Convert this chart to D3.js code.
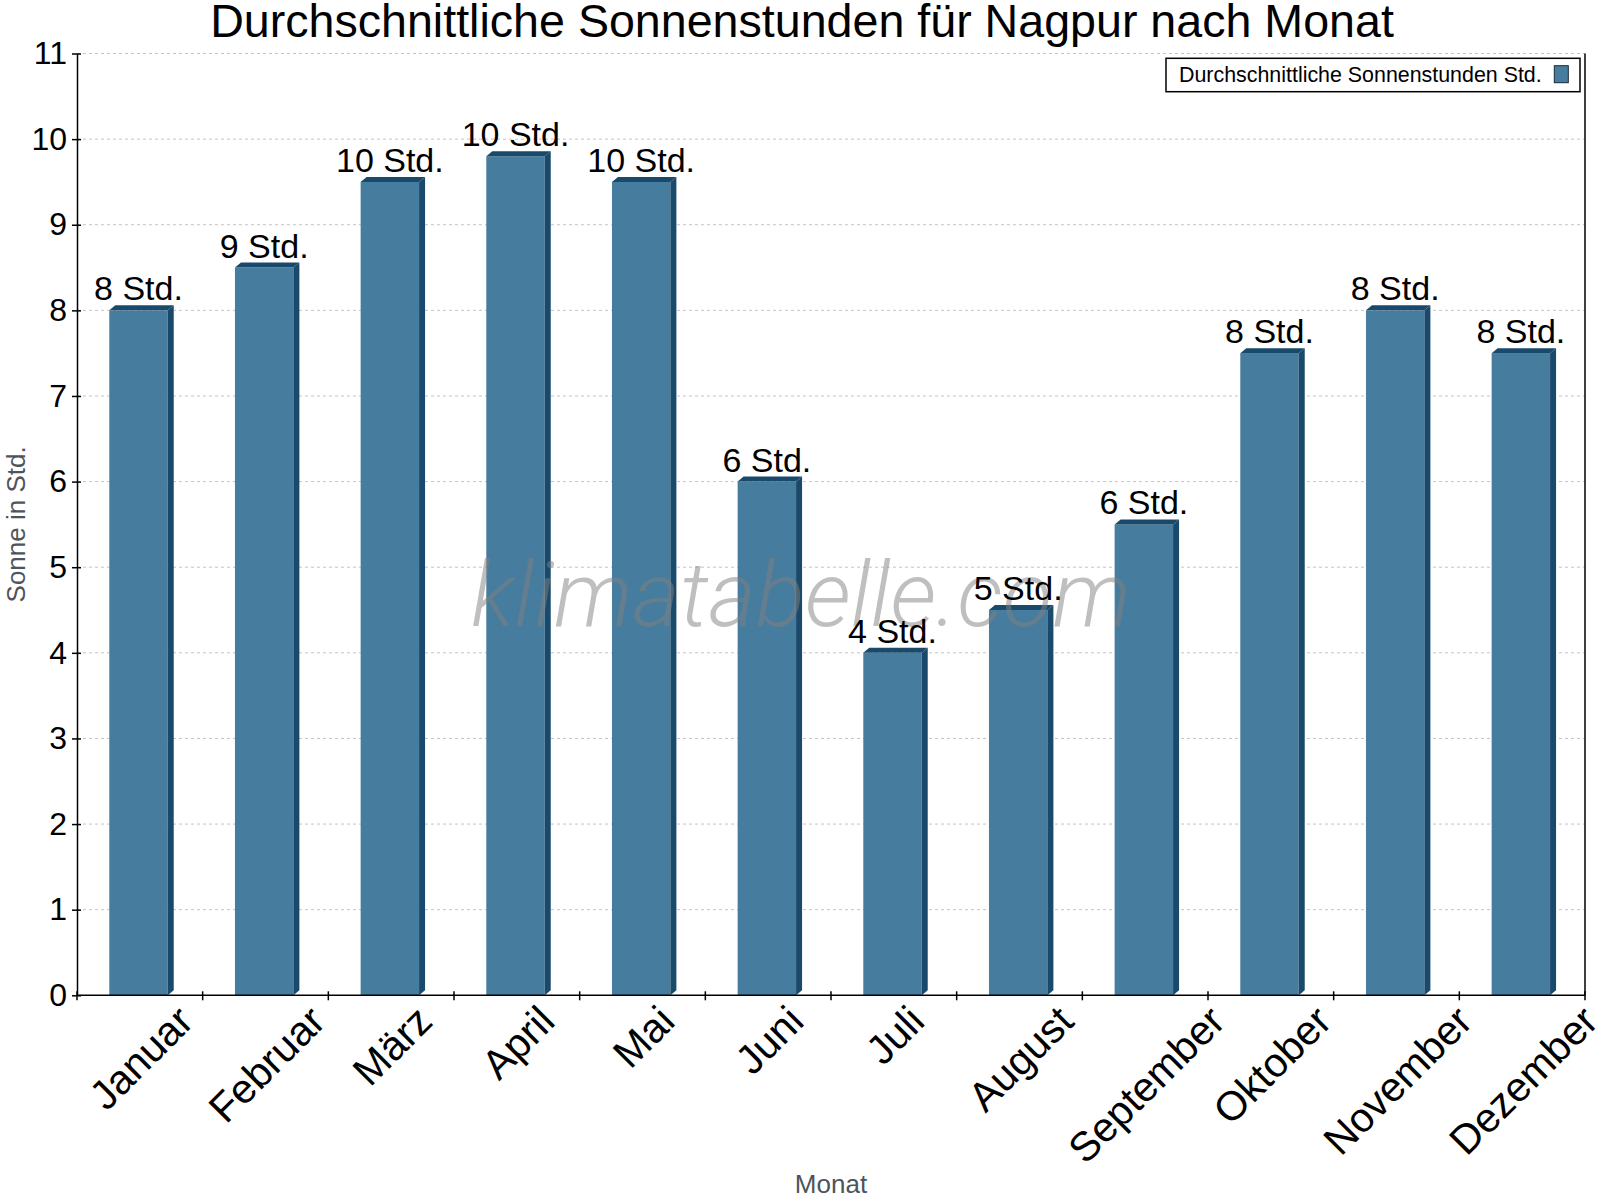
<!DOCTYPE html>
<html>
<head>
<meta charset="utf-8">
<script src="https://cdn.jsdelivr.net/npm/d3@7"></script>
<style>
  body { margin: 0; background: #fff; }
  text { font-family: "Liberation Sans", Arial, sans-serif; }
</style>
</head>
<body>
<script>
// Sonnenstunden Nagpur
var months = ["Januar", "Februar", "März", "April", "Mai", "Juni", "Juli",
              "August", "September", "Oktober", "November", "Dezember"];
var sunHours = [8, 8.5, 9.5, 9.8, 9.5, 6, 4, 4.5, 5.5, 7.5, 8, 7.5];
var valueLabels = ["8 Std.", "9 Std.", "10 Std.", "10 Std.", "10 Std.", "6 Std.",
                   "4 Std.", "5 Std.", "6 Std.", "8 Std.", "8 Std.", "8 Std."];
var yTicks = [0, 1, 2, 3, 4, 5, 6, 7, 8, 9, 10, 11];

var W = 1600, H = 1200;
var pLeft = 77, pRight = 1585, pTop = 53.5, pBottom = 995.3;
var front = "#467c9e", dark = "#1a4a6b";
var depthX = 6, depthY = 5;

var svg = d3.select("body").append("svg")
    .attr("width", W)
    .attr("height", H);

svg.append("rect").attr("width", W).attr("height", H).attr("fill", "#fff");

var x = d3.scaleBand().domain(months).range([pLeft, pRight]).padding(0);
var y = d3.scaleLinear().domain([0, 11]).range([pBottom, pTop]);

var bw = x.bandwidth();
var barOff = 0.257 * bw, barW = 0.465 * bw;

// gridlines
svg.append("g")
    .selectAll("line")
    .data(yTicks.filter(function (d) { return d > 0; }))
    .enter().append("line")
      .attr("x1", pLeft).attr("x2", pRight)
      .attr("y1", function (d) { return y(d); })
      .attr("y2", function (d) { return y(d); })
      .attr("stroke", "#c4c4c4")
      .attr("stroke-width", 1)
      .attr("stroke-dasharray", "3,3");

// bars (front + side + top)
var bars = svg.append("g").selectAll("g")
    .data(sunHours)
    .enter().append("g");

bars.append("rect")
    .attr("x", function (d, i) { return x(months[i]) + barOff; })
    .attr("y", function (d) { return y(d); })
    .attr("width", barW)
    .attr("height", function (d) { return pBottom - y(d); })
    .attr("fill", front);

bars.append("path")
    .attr("fill", dark)
    .attr("d", function (d, i) {
        var x0 = x(months[i]) + barOff, x1 = x0 + barW, yt = y(d);
        return "M" + x1 + "," + yt + "L" + (x1 + depthX) + "," + (yt - depthY) +
               "L" + (x1 + depthX) + "," + (pBottom - depthY) + "L" + x1 + "," + pBottom + "Z";
    });

bars.append("path")
    .attr("fill", dark)
    .attr("d", function (d, i) {
        var x0 = x(months[i]) + barOff, x1 = x0 + barW, yt = y(d);
        return "M" + x0 + "," + yt + "L" + (x0 + depthX) + "," + (yt - depthY) +
               "L" + (x1 + depthX) + "," + (yt - depthY) + "L" + x1 + "," + yt + "Z";
    });

// watermark, drawn over the bars
var wm = svg.append("text")
    .attr("x", 471)
    .attr("y", 626)
    .attr("font-size", 112)
    .attr("font-style", "italic")
    .attr("font-weight", 300)
    .style("font-family", "Roboto, 'Open Sans', sans-serif")
    .attr("fill", "#808080")
    .attr("fill-opacity", 0.5)
    .text("klimatabelle.com");
var wmLen = wm.node().getComputedTextLength();
wm.attr("font-size", 112 * 660 / wmLen);

// value labels
svg.append("g").selectAll("text")
    .data(sunHours)
    .enter().append("text")
      .attr("x", function (d, i) { return x(months[i]) + barOff + barW / 2; })
      .attr("y", function (d) { return y(d) - 10; })
      .attr("text-anchor", "middle")
      .attr("font-size", 34)
      .attr("fill", "#000")
      .text(function (d, i) { return valueLabels[i]; });

// y axis
var yAxis = svg.append("g")
    .attr("transform", "translate(" + pLeft + ",0)")
    .call(d3.axisLeft(y).tickValues(yTicks).tickSize(5).tickSizeOuter(0).tickPadding(6));
yAxis.select(".domain").attr("stroke", "#000").attr("stroke-width", 1.5);
yAxis.selectAll(".tick line").attr("x1", -5).attr("x2", 4).attr("stroke", "#000").attr("stroke-width", 1.5);
yAxis.selectAll(".tick text")
    .attr("font-size", 32)
    .attr("x", -10)
    .style("font-family", "'Liberation Sans', Arial, sans-serif")
    .attr("fill", "#000");

// right border
svg.append("line")
    .attr("x1", pRight).attr("x2", pRight)
    .attr("y1", pTop).attr("y2", pBottom)
    .attr("stroke", "#000").attr("stroke-width", 1.5);

// x axis
svg.append("line")
    .attr("x1", pLeft).attr("x2", pRight)
    .attr("y1", pBottom).attr("y2", pBottom)
    .attr("stroke", "#000").attr("stroke-width", 1.5);

svg.append("g").selectAll("line")
    .data(d3.range(months.length + 1))
    .enter().append("line")
      .attr("x1", function (i) { return pLeft + i * x.step(); })
      .attr("x2", function (i) { return pLeft + i * x.step(); })
      .attr("y1", pBottom - 4).attr("y2", pBottom + 5)
      .attr("stroke", "#000").attr("stroke-width", 1.5);

// rotated month labels, bounding box centred on the band
var fsM = 41;
svg.append("g").selectAll("text")
    .data(months)
    .enter().append("text")
      .attr("text-anchor", "middle")
      .attr("dy", "0.35em")
      .attr("font-size", fsM)
      .attr("fill", "#000")
      .text(function (d) { return d; })
      .each(function (d) {
          var L = this.getComputedTextLength();
          var cx = x(d) + bw / 2 + 1;
          var cy = 1003 + 0.7071 * (L / 2 + 0.36 * fsM);
          d3.select(this).attr("transform", "translate(" + cx + "," + cy + ") rotate(-45)");
      });

// axis titles
svg.append("text")
    .attr("x", (pLeft + pRight) / 2)
    .attr("y", 1193)
    .attr("text-anchor", "middle")
    .attr("font-size", 26)
    .attr("fill", "#4d545c")
    .text("Monat");

svg.append("text")
    .attr("transform", "translate(25," + ((pTop + pBottom) / 2) + ") rotate(-90)")
    .attr("text-anchor", "middle")
    .attr("font-size", 26)
    .attr("fill", "#4d545c")
    .text("Sonne in Std.");

// title
svg.append("text")
    .attr("x", 802)
    .attr("y", 37)
    .attr("text-anchor", "middle")
    .attr("font-size", 46.6)
    .attr("fill", "#000")
    .text("Durchschnittliche Sonnenstunden für Nagpur nach Monat");

// legend
var lg = svg.append("g");
lg.append("rect")
    .attr("x", 1166).attr("y", 58.3)
    .attr("width", 414).attr("height", 33.4)
    .attr("fill", "#fff").attr("stroke", "#000").attr("stroke-width", 1.5);
lg.append("text")
    .attr("x", 1179).attr("y", 82)
    .attr("font-size", 21.4)
    .attr("fill", "#000")
    .text("Durchschnittliche Sonnenstunden Std.");
lg.append("rect")
    .attr("x", 1554.3).attr("y", 65.7)
    .attr("width", 14).attr("height", 17)
    .attr("fill", front).attr("stroke", "#1a2a35").attr("stroke-width", 1);
</script>
</body>
</html>
